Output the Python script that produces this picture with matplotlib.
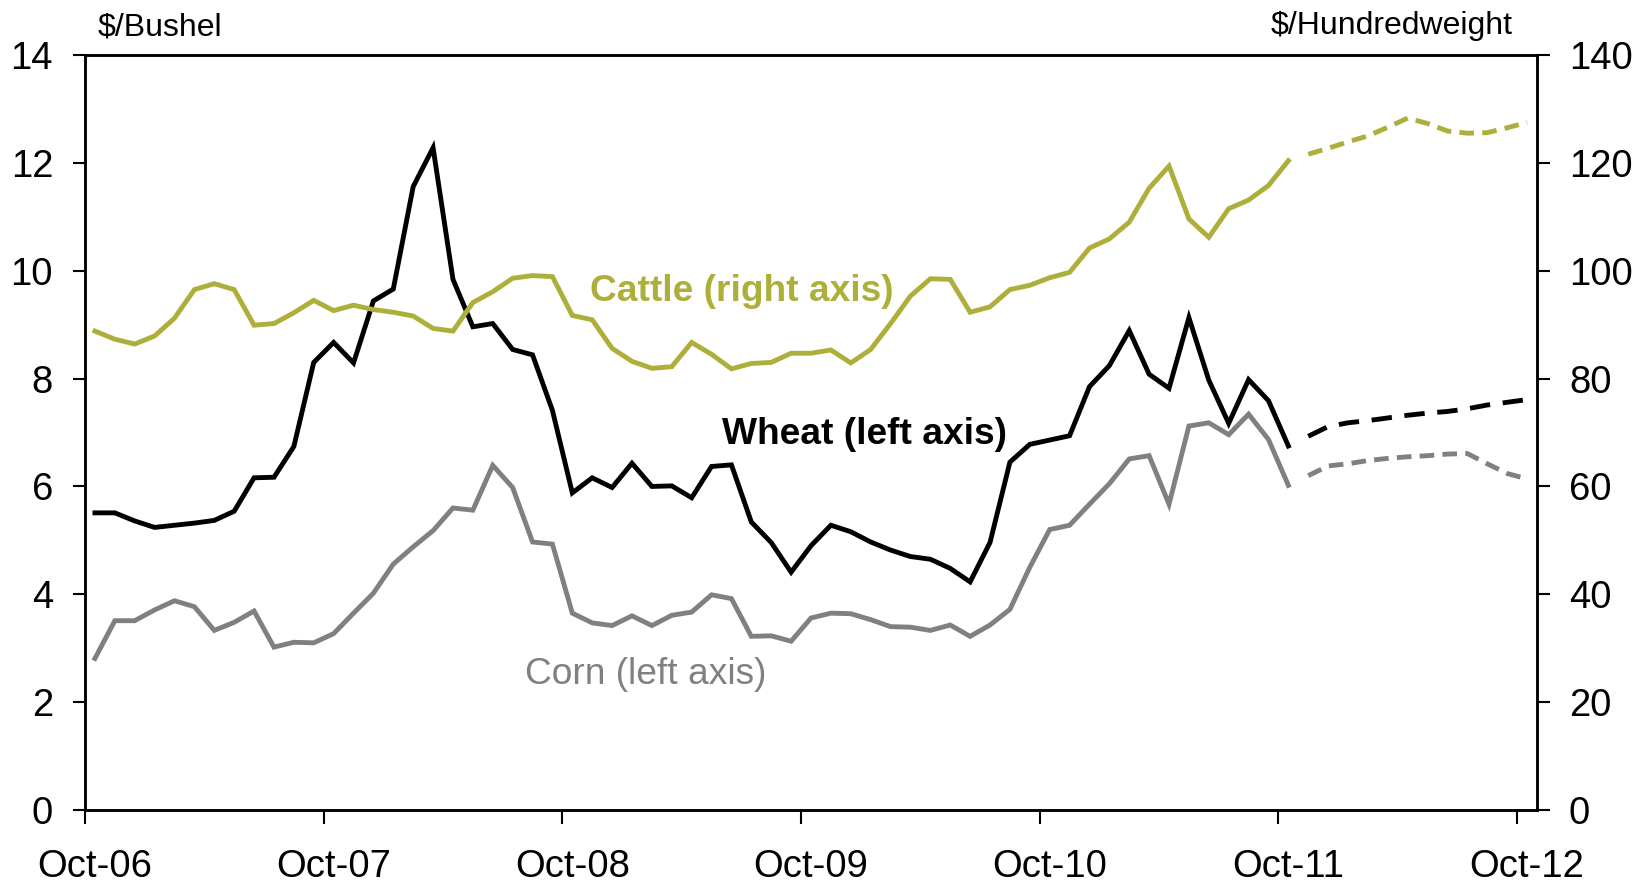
import numpy as np
import matplotlib
matplotlib.use("Agg")
import matplotlib.pyplot as plt

plt.rcParams['font.family'] = ['Liberation Sans', 'DejaVu Sans']

# Monthly data, Oct-06 .. Oct-11 actual, Nov-11 .. Oct-12 futures (dashed)
x_ticklabels = ["Oct-06", "Oct-07", "Oct-08", "Oct-09", "Oct-10", "Oct-11", "Oct-12"]
left_ticks = [0, 2, 4, 6, 8, 10, 12, 14]
right_ticks = [0, 20, 40, 60, 80, 100, 120, 140]

wheat = [5.51, 5.51, 5.36, 5.24, 5.28, 5.32, 5.37, 5.54, 6.16, 6.17, 6.74,
         8.30, 8.67, 8.29, 9.44, 9.66, 11.56, 12.28, 9.84, 8.96, 9.02, 8.54, 8.44, 7.41,
         5.88, 6.16, 5.98, 6.43, 6.00, 6.01, 5.79, 6.37, 6.40, 5.34, 4.96, 4.41,
         4.90, 5.28, 5.16, 4.97, 4.82, 4.70, 4.65, 4.48, 4.23, 4.96, 6.45, 6.78,
         6.86, 6.94, 7.85, 8.24, 8.89, 8.08, 7.82, 9.13, 7.97, 7.17, 7.98, 7.59, 6.75]
wheat_fut = [6.93, 7.11, 7.18, 7.22, 7.27, 7.32, 7.36, 7.39, 7.44, 7.51, 7.56, 7.61]

corn = [2.81, 3.51, 3.51, 3.71, 3.88, 3.77, 3.33, 3.48, 3.69, 3.02, 3.11, 3.10,
        3.27, 3.65, 4.02, 4.56, 4.88, 5.18, 5.60, 5.56, 6.39, 5.98, 4.97, 4.93,
        3.65, 3.47, 3.42, 3.60, 3.42, 3.61, 3.67, 3.99, 3.92, 3.22, 3.23, 3.13,
        3.56, 3.65, 3.64, 3.53, 3.40, 3.39, 3.33, 3.43, 3.22, 3.43, 3.72, 4.50,
        5.20, 5.28, 5.67, 6.05, 6.51, 6.57, 5.67, 7.12, 7.18, 6.96, 7.34, 6.87, 6.02]
corn_fut = [6.20, 6.38, 6.42, 6.48, 6.52, 6.55, 6.57, 6.60, 6.61, 6.42, 6.24, 6.14]

cattle = [88.8, 87.3, 86.4, 87.9, 91.2, 96.5, 97.6, 96.5, 89.9, 90.2, 92.2, 94.5,
          92.6, 93.6, 92.8, 92.3, 91.6, 89.3, 88.8, 94.1, 96.1, 98.6, 99.1, 98.9,
          91.7, 90.9, 85.6, 83.2, 81.9, 82.2, 86.7, 84.5, 81.8, 82.8, 83.0, 84.7,
          84.7, 85.3, 82.9, 85.4, 90.2, 95.3, 98.5, 98.4, 92.3, 93.3, 96.5, 97.3,
          98.7, 99.7, 104.2, 105.9, 109.0, 115.3, 119.4, 109.6, 106.2, 111.5, 113.1, 115.8, 120.4]
cattle_fut = [121.6, 122.7, 123.9, 125.0, 126.6, 128.3, 127.3, 125.9, 125.5, 125.6, 126.5, 127.5]

OLIVE = '#ADAF3A'
GRAY = '#808080'

n_hist = len(wheat)
x_hist = np.arange(n_hist) + 0.5
x_fut = np.arange(n_hist, n_hist + len(wheat_fut)) + 0.5

fig = plt.figure(figsize=(16.42, 8.82), dpi=100)
ax = fig.add_axes([85/1642, 1 - 810/882, (1537-85)/1642, (810-55)/882])
ax2 = ax.twinx()

lw = 3.5
ax.plot(x_hist, corn, color=GRAY, lw=lw, solid_joinstyle='miter', zorder=3)
ax.plot(x_fut, corn_fut, color=GRAY, lw=lw, dashes=(3.0, 1.7), zorder=3)
ax.plot(x_hist, wheat, color='black', lw=lw, solid_joinstyle='miter', zorder=4)
ax.plot(x_fut, wheat_fut, color='black', lw=lw, dashes=(4.2, 2.6), zorder=4)
ax2.plot(x_hist, cattle, color=OLIVE, lw=lw, solid_joinstyle='miter')
ax2.plot(x_fut, cattle_fut, color=OLIVE, lw=lw, dashes=(3.0, 1.7))

ax.set_xlim(0, 73)
ax.set_ylim(0, 14)
ax2.set_ylim(0, 140)

ax.set_yticks(left_ticks)
ax.set_yticklabels([str(t) for t in left_ticks])
ax2.set_yticks(right_ticks)
ax2.set_yticklabels([str(t) for t in right_ticks])

major = [12 * k for k in range(len(x_ticklabels))]
ax.set_xticks(major)
ax.set_xticklabels([''] * len(major))
ax.set_xticks([m + 0.5 for m in major], minor=True)
ax.set_xticklabels(x_ticklabels, minor=True)

ax.tick_params(axis='x', which='major', direction='out', length=10, width=1.5)
ax.tick_params(axis='x', which='minor', length=0, pad=28, labelsize=27.5)
ax.tick_params(axis='y', direction='out', length=9, width=1.5, pad=14, labelsize=27.5)
ax2.tick_params(axis='y', direction='out', length=9, width=1.5, pad=14, labelsize=27.5)

for a in (ax, ax2):
    for s in a.spines.values():
        s.set_linewidth(1.8)

ax.text(33.0, 9.62, "Cattle (right axis)", color=OLIVE, fontsize=26.7, fontweight='bold',
        ha='center', va='center')
ax.text(39.2, 6.97, "Wheat (left axis)", color='black', fontsize=26.7, fontweight='bold',
        ha='center', va='center')
ax.text(28.2, 2.51, "Corn (left axis)", color=GRAY, fontsize=26.7,
        ha='center', va='center')

fig.text(98/1642, 1 - 36/882, "$/Bushel", fontsize=23, ha='left', va='baseline')
fig.text(1513/1642, 1 - 34/882, "$/Hundredweight", fontsize=23, ha='right', va='baseline')

fig.savefig("out.png", dpi=100)
